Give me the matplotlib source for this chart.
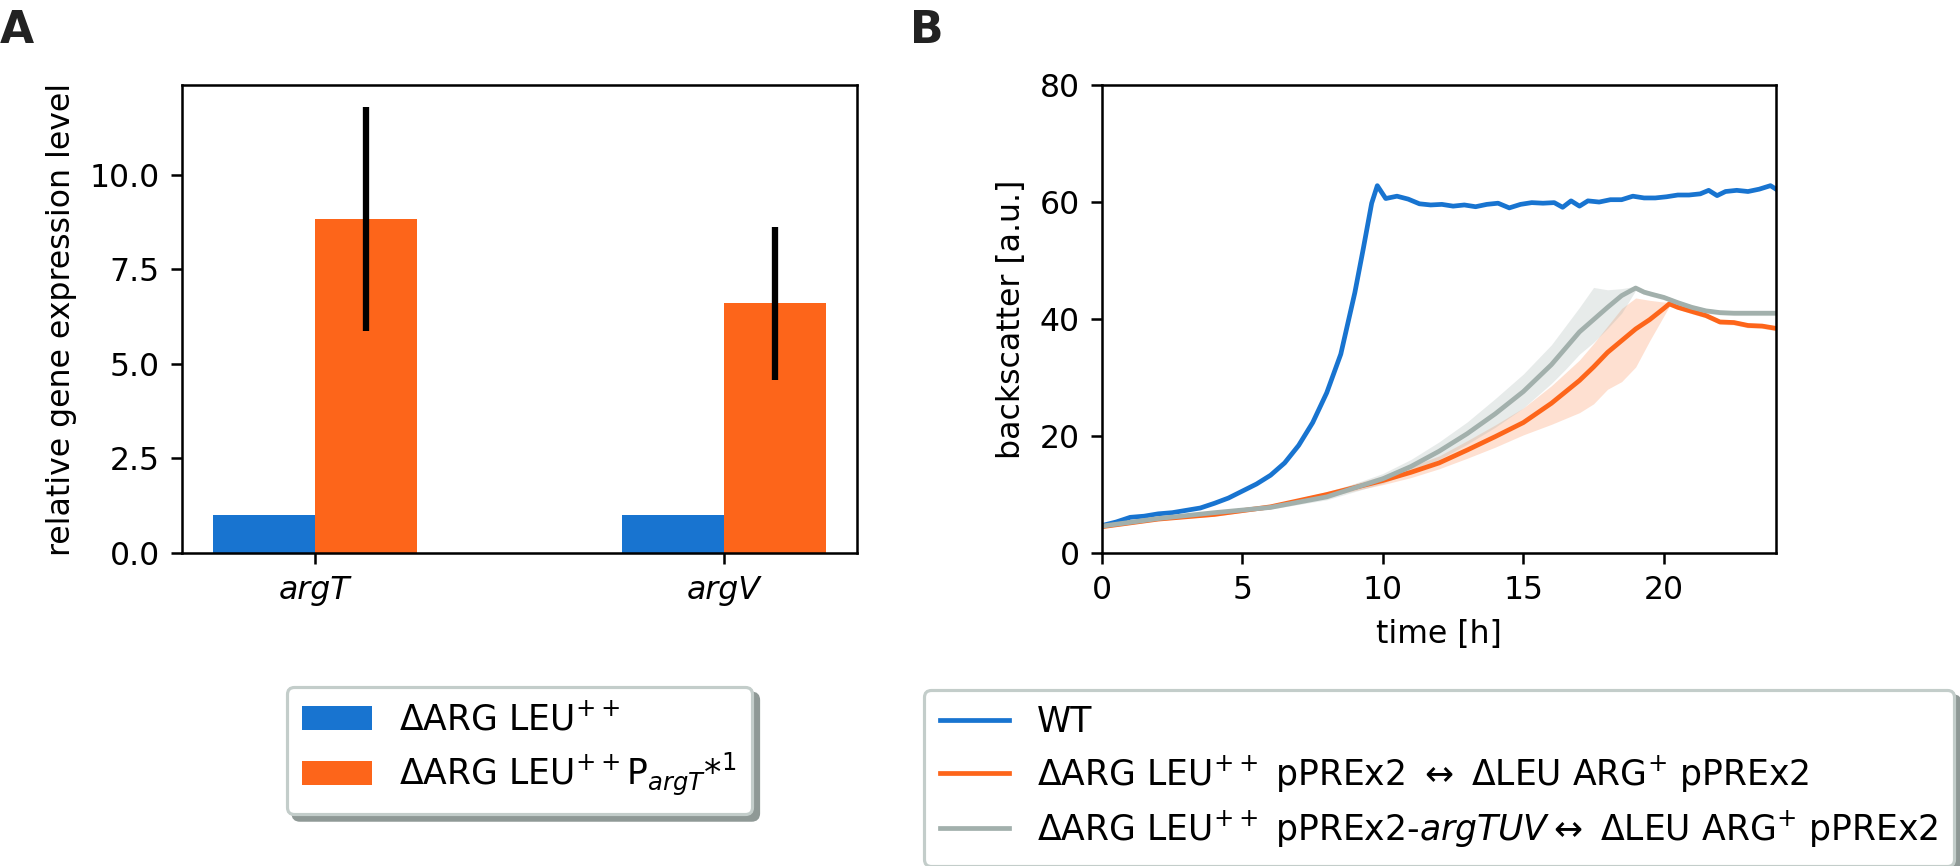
import matplotlib
matplotlib.use("Agg")
import matplotlib.pyplot as plt
import numpy as np

# --- panel A: qPCR ---
genes = ["argT", "argV"]
expr_ctrl = [1.0, 1.0]
expr_mut = [8.83, 6.6]
expr_mut_err = [2.95, 2.02]

# --- panel B: growth curves (backscatter) ---
t_wt = [0, 0.5, 1.0, 1.5, 2.0, 2.5, 3.0, 3.5, 4.0, 4.5, 5.0, 5.5, 6.0, 6.5, 7.0, 7.5, 8.0,
        8.5, 9.0, 9.3, 9.6, 9.8, 10.1, 10.5, 10.9, 11.3, 11.7, 12.1, 12.5, 12.9, 13.3, 13.7,
        14.1, 14.5, 14.9, 15.3, 15.7, 16.1, 16.4, 16.7, 17.0, 17.3, 17.7, 18.1, 18.5, 18.9,
        19.3, 19.7, 20.1, 20.5, 20.9, 21.3, 21.6, 21.9, 22.2, 22.6, 23.0, 23.4, 23.8, 24.0]
bs_wt = [4.7, 5.3, 6.1, 6.3, 6.7, 6.9, 7.3, 7.7, 8.5, 9.4, 10.6, 11.8, 13.3, 15.4, 18.4, 22.3,
         27.4, 34.0, 44.5, 52.0, 59.8, 62.8, 60.6, 61.0, 60.5, 59.7, 59.5, 59.6, 59.3, 59.5,
         59.2, 59.6, 59.8, 59.0, 59.6, 59.9, 59.8, 59.9, 59.1, 60.2, 59.3, 60.2, 60.0, 60.4,
         60.4, 61.0, 60.7, 60.7, 60.9, 61.2, 61.2, 61.4, 62.0, 61.1, 61.8, 62.0, 61.8, 62.2,
         62.8, 62.2]

t_ko = [0, 2, 4, 6, 8, 10, 11, 12, 13, 14, 15, 16, 17, 17.5, 18, 18.5, 19, 19.5, 20, 20.2,
        20.5, 21, 21.5, 22, 22.5, 23, 23.5, 24]
bs_ko = [4.5, 5.8, 6.6, 7.9, 10.0, 12.4, 13.8, 15.4, 17.6, 19.9, 22.3, 25.6, 29.5, 31.8, 34.3,
         36.3, 38.3, 39.9, 41.8, 42.6, 42.0, 41.3, 40.6, 39.5, 39.4, 38.9, 38.8, 38.4]
bs_ko_hi = [4.7, 6.0, 6.9, 8.2, 10.5, 13.2, 14.8, 16.6, 19.2, 21.9, 24.8, 28.6, 33.0, 35.8,
            38.8, 41.8, 43.6, 43.2, 42.9, 42.9, 42.3, 41.7, 41.0, 39.9, 39.8, 39.3, 39.2, 38.8]
bs_ko_lo = [4.3, 5.6, 6.3, 7.6, 9.6, 11.7, 12.9, 14.4, 16.2, 18.1, 20.2, 22.0, 24.0, 25.5,
            28.0, 29.3, 31.8, 36.3, 40.5, 42.2, 41.7, 40.9, 40.2, 39.1, 39.0, 38.5, 38.4, 38.0]

t_tuv = [0, 2, 4, 6, 8, 10, 11, 12, 13, 14, 15, 16, 16.5, 17, 17.5, 18, 18.5, 19, 19.3, 19.6,
         20, 20.5, 21, 21.5, 22, 22.5, 23, 24]
bs_tuv = [4.6, 5.9, 6.9, 7.8, 9.6, 12.7, 14.8, 17.4, 20.4, 23.8, 27.6, 32.2, 35.0, 37.8, 39.9,
          42.0, 44.0, 45.3, 44.6, 44.2, 43.7, 42.8, 42.0, 41.4, 41.1, 41.0, 41.0, 41.0]
bs_tuv_hi = [4.8, 6.1, 7.2, 8.2, 10.2, 13.6, 16.0, 19.0, 22.4, 26.4, 30.6, 35.6, 38.8, 42.0,
             45.4, 45.0, 45.2, 45.6, 45.0, 44.6, 44.1, 43.2, 42.4, 41.8, 41.5, 41.4, 41.4, 41.4]
bs_tuv_lo = [4.4, 5.7, 6.6, 7.5, 9.1, 11.9, 13.8, 16.0, 18.6, 21.5, 24.8, 29.0, 31.4, 34.0,
             36.0, 38.4, 41.0, 44.9, 44.2, 43.8, 43.3, 42.4, 41.6, 41.0, 40.7, 40.6, 40.6, 40.6]

BLUE = "#1874d0"
ORANGE = "#fd651a"
GRAY = "#a2b0ac"

plt.rcParams["font.size"] = 10
plt.rcParams["legend.fontsize"] = 11
plt.rcParams["legend.labelspacing"] = 0.4
plt.rcParams["legend.borderpad"] = 0.45
plt.rcParams["legend.edgecolor"] = "#c3cdca"
plt.rcParams["legend.framealpha"] = 1.0

fig = plt.figure(figsize=(1961 / 227, 866 / 227), dpi=227)
axA = fig.add_axes([0.0928, 0.3614, 0.3442, 0.5404])
axB = fig.add_axes([0.5620, 0.3614, 0.3437, 0.5404])

# A
x = np.arange(len(genes))
w = 0.25
axA.bar(x - w / 2, expr_ctrl, w, color=BLUE, label=r"$\Delta$ARG LEU$^{++}$")
axA.bar(x + w / 2, expr_mut, w, color=ORANGE,
        label=r"$\Delta$ARG LEU$^{++}$P$_{argT}$*$^{1}$")
axA.errorbar(x + w / 2, expr_mut, yerr=expr_mut_err, fmt="none", ecolor="black",
             elinewidth=2, capsize=0)
axA.set_xticks(x)
axA.set_xticklabels(genes, fontstyle="italic")
axA.set_ylabel("relative gene expression level")
axA.set_yticks([0, 2.5, 5, 7.5, 10])
axA.legend(loc="upper center", bbox_to_anchor=(0.5, -0.286), borderaxespad=0,
           shadow={"color": "#8f9996", "alpha": 1.0})

# B
axB.fill_between(t_ko, bs_ko_lo, bs_ko_hi, color=ORANGE, alpha=0.2, lw=0)
axB.fill_between(t_tuv, bs_tuv_lo, bs_tuv_hi, color=GRAY, alpha=0.25, lw=0)
axB.plot(t_wt, bs_wt, color=BLUE, lw=1.5, label="WT")
axB.plot(t_ko, bs_ko, color=ORANGE, lw=1.5,
         label=r"$\Delta$ARG LEU$^{++}$ pPREx2 $\leftrightarrow$ $\Delta$LEU ARG$^{+}$ pPREx2")
axB.plot(t_tuv, bs_tuv, color=GRAY, lw=1.5,
         label=r"$\Delta$ARG LEU$^{++}$ pPREx2-$argTUV$$\leftrightarrow$ $\Delta$LEU ARG$^{+}$ pPREx2")
axB.set_xlim(0, 24)
axB.set_ylim(0, 80)
axB.set_xticks([0, 5, 10, 15, 20])
axB.set_yticks([0, 20, 40, 60, 80])
axB.set_xlabel("time [h]")
axB.set_ylabel("backscatter [a.u.]")
axB.legend(loc="upper center", bbox_to_anchor=(0.5, -0.292), borderaxespad=0,
           shadow={"color": "#8f9996", "alpha": 1.0})

fig.text(0.0, 0.99, "A", fontsize=14, fontweight="bold", va="top", color="#222222")
fig.text(0.464, 0.99, "B", fontsize=14, fontweight="bold", va="top", color="#222222")

fig.savefig("out.png", dpi=227)
